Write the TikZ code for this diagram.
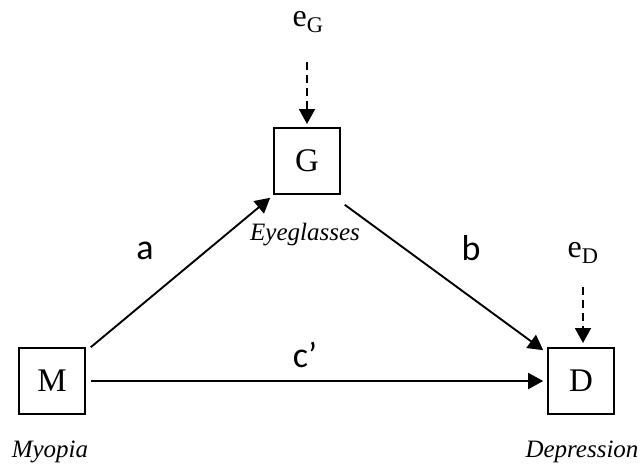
\documentclass[tikz,border=0pt]{standalone}
\usepackage{fontspec}
\setmainfont{Liberation Serif}
\newfontfamily\labfont{Carlito}
\usetikzlibrary{arrows.meta}
\begin{document}
\begin{tikzpicture}[x=1pt,y=-1pt,
  varbox/.style={draw,line width=1.6pt,minimum size=66pt,inner sep=0pt,font=\fontsize{33}{36}\selectfont},
  captext/.style={font=\fontsize{25}{28}\selectfont\itshape},
  errtext/.style={font=\fontsize{32}{34}\selectfont},
  labtext/.style={font=\labfont\fontsize{36}{40}\selectfont},
  arr/.style={line width=1.9pt,-{Triangle[length=15pt,width=16pt]}},
  darr/.style={arr,dash pattern=on 8pt off 5pt}]
\useasboundingbox (0,0) rectangle (640,467);
\node[varbox] (M) at (52,381) {M};
\node[varbox] (G) at (307,161) {G};
\node[varbox] (D) at (581,381) {D};
\node[captext] (mt) at (50,452) {Myopia};
\node[captext] (gt) at (305,235) {Eyeglasses};
\node[captext] (dt) at (582,452) {Depression};
\node[errtext] (eG) at (308,22) {e\textsubscript{G}};
\node[errtext] (eD) at (583,253) {e\textsubscript{D}};
\coordinate (eGs) at (307,62);
\coordinate (eGe) at (307,124);
\coordinate (eDs) at (583,287);
\coordinate (eDe) at (583,343);
\draw[darr] (eGs) -- (eGe);
\draw[darr] (eDs) -- (eDe);
\draw[arr] ([xshift=5pt]M.north east) -- ([xshift=-3pt,yshift=-3pt]G.south west);
\draw[arr] ([xshift=4pt,yshift=-10pt]G.south east) -- ([xshift=-4pt,yshift=-3pt]D.north west);
\draw[arr] ([xshift=5pt]M.east) -- ([xshift=-4pt]D.west);
\node[labtext] (la) at (145,251) {a};
\node[labtext] (lb) at (471,248) {b};
\node[labtext] (lc) at (305,355) {c’};
\end{tikzpicture}
\end{document}
